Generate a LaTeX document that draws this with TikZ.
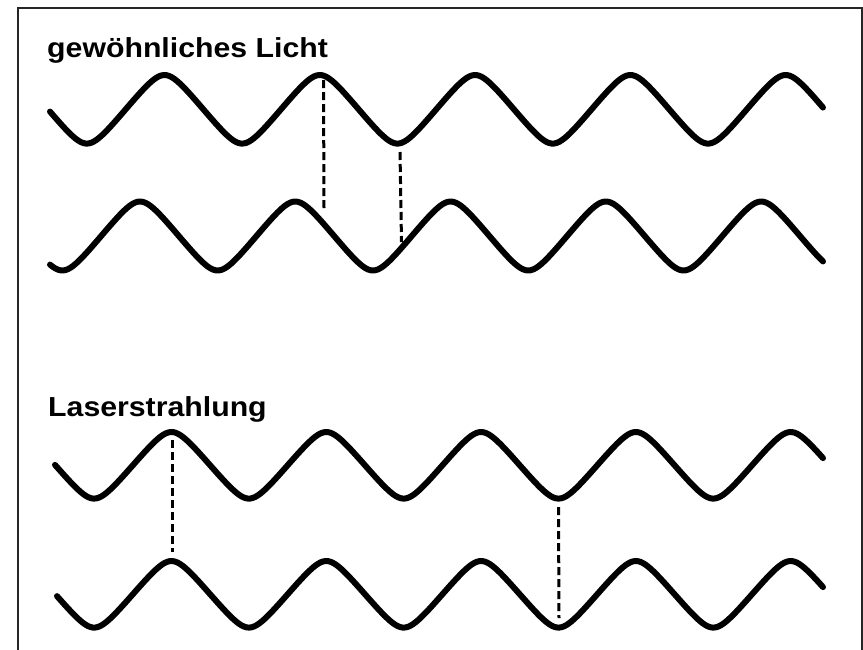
\documentclass[tikz,border=0pt]{standalone}
\usepackage{fontspec}
\usepackage{graphicx}
\setmainfont{Liberation Sans}
\pgfmathdeclarefunction{wv}{1}{\pgfmathparse{asin(0.85*cos(#1))/asin(0.85)}}
\tikzset{
  wave/.style={line width=6pt, line cap=round, line join=round},
  guide/.style={line width=3pt, dash pattern=on 8pt off 4pt, line cap=butt},
  frame/.style={line width=2pt, draw=black!85},
  lab/.style={anchor=base west, inner sep=0pt, font=\fontsize{27.5}{30}\selectfont\bfseries}
}
\begin{document}
\begin{tikzpicture}[x=1pt,y=-1pt]
\useasboundingbox (0,0) rectangle (863,649);
\clip (0,0) rectangle (863,649);
\draw[frame] (18,8) rectangle (862,700);
\node[lab] (t1) at (47,57) {\scalebox{1.1}[1]{gewöhnliches Licht}};
\node[lab] (t2) at (48,416) {\scalebox{1.1}[1]{Laserstrahlung}};
% ordinary light
\draw[wave] plot[domain=50:823, samples=300, smooth] (\x, {109.3 - 34.3*wv((\x-164.5)/155.3*360)});
\draw[wave] plot[domain=50:823, samples=300, smooth] (\x, {236 - 34.5*wv((\x-140)/155.3*360)});
% laser
\draw[wave] plot[domain=55:823, samples=300, smooth] (\x, {465.3 - 33.3*wv((\x-171.5)/154.8*360)});
\draw[wave] plot[domain=57:823, samples=300, smooth] (\x, {594.3 - 33.3*wv((\x-171.5)/154.8*360)});
% guides
\coordinate (g1a) at (323.5,80);  \coordinate (g1b) at (324,208);
\coordinate (g2a) at (400,152);   \coordinate (g2b) at (401.5,242);
\coordinate (g3a) at (172,440);   \coordinate (g3b) at (172,552);
\coordinate (g4a) at (558.5,507); \coordinate (g4b) at (559,618);
\draw[guide] (g1a) -- (g1b);
\draw[guide] (g2a) -- (g2b);
\draw[guide] (g3a) -- (g3b);
\draw[guide] (g4a) -- (g4b);
\end{tikzpicture}
\end{document}
